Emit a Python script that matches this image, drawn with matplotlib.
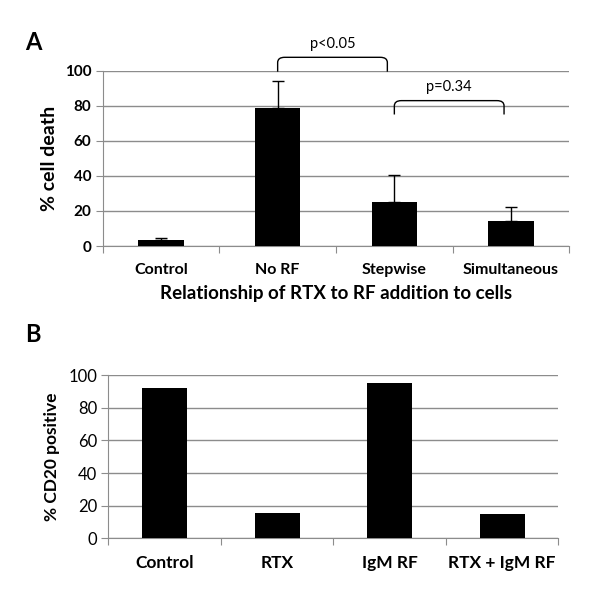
import numpy as np
import matplotlib
matplotlib.use("Agg")
import matplotlib.pyplot as plt
from matplotlib.path import Path
from matplotlib.patches import PathPatch

plt.rcParams['font.family'] = ['Lato', 'DejaVu Sans']

# panel A data
a_labels = ["Control", "No RF", "Stepwise", "Simultaneous"]
a_values = [3.5, 78.5, 25, 14.5]
a_err = [1.0, 15.5, 15.5, 7.5]
a_ticks = [0, 20, 40, 60, 80, 100]

# p-value brackets: (start index, end index, text)
brackets = [(1, 2, "p<0.05"), (2, 3, "p=0.34")]
bracket_base = [99.4, 75]
bracket_top = [107.6, 82.9]
bracket_text_y = [115.2, 90.9]

# panel B data
b_labels = ["Control", "RTX", "IgM RF", "RTX + IgM RF"]
b_values = [92, 15.5, 95, 15]
b_ticks = [0, 20, 40, 60, 80, 100]

grid_col = "#8c8c8c"


def style_axes(ax, n):
    ax.set_xlim(-0.5, n - 0.5)
    ax.set_ylim(0, 100)
    for s in ["top", "right"]:
        ax.spines[s].set_visible(False)
    ax.spines["left"].set_color(grid_col)
    ax.spines["bottom"].set_color(grid_col)
    ax.yaxis.grid(True, color=grid_col, linewidth=1.0)
    ax.set_axisbelow(True)
    # category boundary ticks on x axis, labels between them
    ax.set_xticks(np.arange(n + 1) - 0.5, minor=False)
    ax.set_xticklabels([])
    ax.set_xticks(np.arange(n), minor=True)
    ax.tick_params(axis="x", which="major", length=5, color=grid_col, direction="out")
    ax.tick_params(axis="x", which="minor", length=0, pad=12)
    ax.tick_params(axis="y", length=5, color=grid_col, pad=3)


def bracket(ax, x0, x1, yb, yt, r=0.06, ry=3.0):
    verts = [(x0, yb), (x0, yt - ry), (x0, yt), (x0 + r, yt),
             (x1 - r, yt), (x1, yt), (x1, yt - ry), (x1, yb)]
    codes = [Path.MOVETO, Path.LINETO, Path.CURVE3, Path.CURVE3,
             Path.LINETO, Path.CURVE3, Path.CURVE3, Path.LINETO]
    ax.add_patch(PathPatch(Path(verts, codes), fill=False, lw=1.0,
                           ec="black", clip_on=False))


fig = plt.figure(figsize=(6.0, 6.09), dpi=100)

# ---- panel A
axA = fig.add_axes([0.171, 0.596, 0.778, 0.288])
xa = np.arange(len(a_labels))
axA.bar(xa, a_values, width=0.39, color="black", zorder=3,
        yerr=[np.zeros(len(a_err)), a_err], capsize=4,
        error_kw=dict(ecolor="black", elinewidth=1.0, capthick=1.0, zorder=4))
style_axes(axA, len(a_labels))
axA.set_yticks(a_ticks)
axA.set_yticklabels([str(t) for t in a_ticks], fontsize=11, fontweight="bold")
axA.set_xticklabels(a_labels, minor=True, fontsize=11.5, fontweight="bold")
axA.set_ylabel("% cell death", fontsize=14, fontweight="bold", labelpad=5)
axA.set_xlabel("Relationship of RTX to RF addition to cells", fontsize=13.5,
               fontweight="bold", labelpad=6)
for (i0, i1, txt), yb, yt, yt2 in zip(brackets, bracket_base, bracket_top, bracket_text_y):
    bracket(axA, i0, i1 - 0.06, yb, yt)
    axA.text((i0 + i1 - 0.06) / 2, yt2, txt, ha="center", va="center",
             fontsize=10.5, clip_on=False)

# ---- panel B
axB = fig.add_axes([0.1805, 0.116, 0.75, 0.268])
xb = np.arange(len(b_labels))
axB.bar(xb, b_values, width=0.4, color="black", zorder=3)
style_axes(axB, len(b_labels))
axB.set_yticks(b_ticks)
axB.set_yticklabels([str(t) for t in b_ticks], fontsize=12)
axB.set_xticklabels(b_labels, minor=True, fontsize=12.5, fontweight="bold")
axB.tick_params(axis="x", which="minor", pad=12)
axB.set_ylabel("% CD20 positive", fontsize=12.5, fontweight="bold", labelpad=6)

fig.text(0.042, 0.931, "A", fontsize=17, fontweight="bold", va="center")
fig.text(0.042, 0.45, "B", fontsize=17, fontweight="bold", va="center")

fig.savefig("out.png", dpi=100, facecolor="white")
